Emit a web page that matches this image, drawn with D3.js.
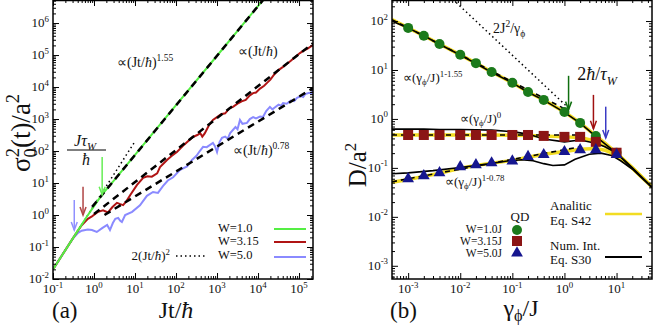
<!DOCTYPE html>
<html><head><meta charset="utf-8">
<script src="https://cdn.jsdelivr.net/npm/d3@7"></script>
<style>
body{margin:0;background:#fff}
svg{display:block}
</style>
</head><body>
<svg id="c" width="654" height="327"></svg>
<script>
// ---------------- DATA (panel a) ----------------
const w1Time  = [0.1,0.2,0.4,0.63,1,1.58,3.16,10,100,1000,1e4,2e4];
const w1Sigma = [0.02,0.08,0.32,0.79,1.9,4.4,12.6,76,2700,95000,3.4e6,1e7];

const w315Time  = [0.1,0.2,0.316,0.501,0.708,0.891,1.26,1.66,2.19,2.82,3.63,4.37,5.13,6.31,7.59,11.2,15.8,20,25.7,34.7,40.7,60.3,79.4,105,158,257,331,389,437,501,631,794,1000,1260,1580,2000,2450,3160,3980,5010,6310,7590,8910,11200,14100,16600,20000,25100,31600,40700,50100,63100,79400,105000,126000,158000,219000];
const w315Sigma = [0.02,0.08,0.2,0.48,0.76,0.91,1.26,1.41,1.2,1.78,2.4,2.19,2.04,2.82,4.17,8.71,14.5,16.2,15.8,20,31.6,52.5,70.8,93.3,158,275,316,363,282,355,631,933,1150,1410,1510,2140,2400,3020,3550,3980,5500,6460,6760,8910,11000,13500,17000,25100,33900,42700,52500,66100,85100,115000,135000,155000,204000];

const w5Time  = [0.1,0.158,0.251,0.316,0.398,0.501,0.708,0.891,1.17,1.58,2.09,2.45,2.88,3.31,3.89,4.37,4.79,5.75,8.51,13.2,19.5,27.5,36.3,47.9,63.1,85.1,126,186,245,316,380,457,562,794,891,1000,1150,1320,1580,1820,2090,2820,3160,3630,4170,5370,6310,7590,8910,11200,13200,15800,19500,22400,25100,31600,36300,40700,50100,63100,75900,89100,112000,126000,141000,178000,200000,219000];
const w5Sigma = [0.02,0.05,0.126,0.195,0.269,0.324,0.355,0.339,0.295,0.389,0.49,0.339,0.562,0.759,0.813,0.661,0.603,1.0,1.26,2.0,3.98,5.25,4.9,7.94,12.0,15.1,25.7,33.1,52.5,70.8,100,135,132,178,141,93.3,191,257,282,240,363,562,480,933,708,759,1000,1150,1050,1200,1150,1780,2400,2000,2240,2820,2600,3160,3020,3800,3630,4570,5250,4900,6030,6610,6300,8320];

const fit155   = [[0.9,1.8],[2e4,9.9e6]];
const fit100   = [[1,1.07],[219000,234000]];
const fit078   = [[1.8,1.0],[219000,9230]];
const ballistic= [[0.1,0.02],[10,200]];

// arrows (time, sigma top, sigma bottom)
const arrowsA = [[1.58,65,4.3],[0.54,7.6,1.0],[0.33,2.95,0.34]];

const ticksA_x = [-1,0,1,2,3,4,5];
const ticksA_y = [-2,-1,0,1,2,3,4,5,6];

// ---------------- DATA (panel b) ----------------
const gammaQD = [0.001,0.002,0.004,0.01,0.02,0.04,0.1,0.2,0.4,1,2,4,10];
const qdW1   = [72.4,50.1,33.9,20.4,13.8,9.12,5.5,3.55,2.45,1.38,0.83,0.447,0.204];
const qdW315 = [0.47,0.47,0.47,0.47,0.47,0.47,0.47,0.47,0.45,0.43,0.43,0.34,0.204];
const qdW5   = [0.060,0.069,0.079,0.105,0.115,0.126,0.138,0.170,0.186,0.214,0.234,0.234,0.186];

const gammaCurve = [4.9e-4,0.001,0.002,0.004,0.01,0.02,0.04,0.1,0.2,0.4,1,2,4,6,10,20,47.9];
const anaW1   = [107,72.4,50.1,33.9,20.4,13.8,9.12,5.5,3.55,2.45,1.38,0.83,0.45,0.32,0.2,0.1,0.041];
const numW1   = [100,72,50,33.5,20.2,13.6,9.0,5.45,3.5,2.42,1.36,0.82,0.44,0.31,0.2,0.1,0.04];
const anaW315 = [0.47,0.47,0.47,0.47,0.47,0.47,0.47,0.465,0.46,0.45,0.43,0.42,0.35,0.28,0.2,0.1,0.041];
const numW315 = [0.62,0.62,0.62,0.61,0.61,0.60,0.59,0.55,0.49,0.39,0.34,0.37,0.32,0.27,0.2,0.1,0.04];
const anaW5   = [0.051,0.058,0.067,0.078,0.098,0.112,0.125,0.142,0.165,0.19,0.215,0.24,0.25,0.23,0.18,0.1,0.041];
const gammaNumW5 = [4.9e-4,0.001,0.003,0.01,0.03,0.08,0.15,0.25,0.4,0.6,1,1.6,3,5,8,12,20,47.9];
const numW5      = [0.076,0.079,0.088,0.102,0.118,0.138,0.147,0.14,0.122,0.112,0.115,0.15,0.19,0.2,0.18,0.14,0.095,0.04];

const fitB1   = [[4.9e-4,107],[1,1.62]];
const fitB315 = [[4.9e-4,0.47],[2,0.47]];
const fitB5   = [[4.9e-4,0.052],[2,0.27]];
const dottedB = [[0.00724,276],[1.26,1.59]];
const arrowsB = [[1.2,7.6,1.55],[3.6,3.1,0.63],[6.2,1.78,0.41]];

const ticksB_x = [-3,-2,-1,0,1];
const ticksB_y = [-3,-2,-1,0,1,2];

// ---------------- DRAW ----------------
const FONT='"Liberation Serif","Times New Roman",serif';
const svg = d3.select("#c").style("font-family",FONT);
const zip = (a,b)=>a.map((v,i)=>[v,b[i]]);

const xA = d3.scaleLog().domain([0.1,2.19e5]).range([53,313]);
const yA = d3.scaleLog().domain([0.01,5.25e6]).range([279,0]);
const xB = d3.scaleLog().domain([4.9e-4,47.9]).range([392,652]);
const yB = d3.scaleLog().domain([5.37e-4,269]).range([279,0]);

function rich(parent,x,y,parts,size,anchor){
  const t=parent.append("text").attr("x",x).attr("y",y)
    .attr("text-anchor",anchor||"start")
    .style("font-family",FONT).style("font-size",size+"px").style("fill","#111");
  let shift=0;
  parts.forEach(p=>{
    const target = p.sup ? -size*0.42 : (p.sub ? size*(p.subk||0.25) : 0);
    const ts=t.append("tspan").text(p.t).attr("dy",target-shift);
    shift=target;
    if(p.sup||p.sub) ts.style("font-size",(size*0.68)+"px");
    if(p.it) ts.style("font-style","italic");
    if(p.dx) ts.attr("dx",p.dx);
  });
  return t;
}
function plain(x,y,s,size,anchor){
  return svg.append("text").attr("x",x).attr("y",y).attr("text-anchor",anchor||"start")
    .style("font-family",FONT).style("font-size",size+"px").style("fill","#111").text(s);
}

function frame(x,y,xMaj,yMaj){
  const g=svg.append("g");
  const [x0,x1]=x.range(), [y0,y1]=y.range();
  const isMaj=v=>Math.abs(Math.log10(v)-Math.round(Math.log10(v)))<1e-6;
  const xMinor=x.ticks().filter(v=>!isMaj(v));
  const yMinor=y.ticks().filter(v=>!isMaj(v));
  const xM=xMaj.map(e=>Math.pow(10,e)), yM=yMaj.map(e=>Math.pow(10,e));
  const mk=(axis,tr)=>g.append("g").attr("transform",tr).call(axis).call(s=>s.select(".domain").remove()).selectAll("line").attr("stroke","#000").attr("stroke-width",1);
  mk(d3.axisBottom(x).tickValues(xM).tickSize(-6).tickFormat(""),`translate(0,${y0})`);
  mk(d3.axisBottom(x).tickValues(xMinor).tickSize(-3).tickFormat(""),`translate(0,${y0})`);
  mk(d3.axisTop(x).tickValues(xM).tickSize(-6).tickFormat(""),`translate(0,${y1})`);
  mk(d3.axisTop(x).tickValues(xMinor).tickSize(-3).tickFormat(""),`translate(0,${y1})`);
  mk(d3.axisLeft(y).tickValues(yM).tickSize(-6).tickFormat(""),`translate(${x0},0)`);
  mk(d3.axisLeft(y).tickValues(yMinor).tickSize(-3).tickFormat(""),`translate(${x0},0)`);
  mk(d3.axisRight(y).tickValues(yM).tickSize(-6).tickFormat(""),`translate(${x1},0)`);
  mk(d3.axisRight(y).tickValues(yMinor).tickSize(-3).tickFormat(""),`translate(${x1},0)`);
  g.selectAll("text").remove();
  xMaj.forEach(e=>rich(svg,x(Math.pow(10,e)),293,[{t:"10"},{t:String(e),sup:true}],13,"middle"));
  yMaj.forEach(e=>rich(svg,x0-4,y(Math.pow(10,e))+4,[{t:"10"},{t:String(e),sup:true}],13,"end"));
  return g;
}

function clip(id,x,y){
  svg.append("clipPath").attr("id",id).append("rect")
    .attr("x",x.range()[0]).attr("y",y.range()[1])
    .attr("width",x.range()[1]-x.range()[0]).attr("height",y.range()[0]-y.range()[1]);
}
clip("ca",xA,yA); clip("cb",xB,yB);

function arrow(g,x,yTop,yBot,color){
  g.append("line").attr("x1",x).attr("x2",x).attr("y1",yTop).attr("y2",yBot)
    .attr("stroke",color).attr("stroke-width",1.5);
  g.append("path").attr("d",`M${x-3},${yBot-8} L${x},${yBot} L${x+3},${yBot-8}`)
    .attr("fill","none").attr("stroke",color).attr("stroke-width",1.5);
}

// ---- panel a ----
const gA=svg.append("g").attr("clip-path","url(#ca)");
const lineA=d3.line().x(d=>xA(d[0])).y(d=>yA(d[1]));
gA.append("path").attr("d",lineA(ballistic)).attr("fill","none").attr("stroke","#000").attr("stroke-width",1.5).attr("stroke-dasharray","1.5,3");
gA.append("path").attr("d",lineA(zip(w5Time,w5Sigma))).attr("fill","none").attr("stroke","#8a8aff").attr("stroke-width",2);
gA.append("path").attr("d",lineA(zip(w315Time,w315Sigma))).attr("fill","none").attr("stroke","#b01414").attr("stroke-width",2);
gA.append("path").attr("d",lineA(zip(w1Time,w1Sigma))).attr("fill","none").attr("stroke","#55ee44").attr("stroke-width",2);
[fit155,fit100,fit078].forEach(f=>gA.append("path").attr("d",lineA(f)).attr("fill","none").attr("stroke","#000").attr("stroke-width",2.5).attr("stroke-dasharray","7,5"));
const arrA=svg.append("g");
const colA=["#66ee55","#b04545","#9090ff"];
arrowsA.forEach((a,i)=>arrow(arrA,xA(a[0]),yA(a[1]),yA(a[2]),colA[i]));
frame(xA,yA,ticksA_x,ticksA_y);
svg.append("rect").attr("x",53).attr("y",0.5).attr("width",260).attr("height",278.5).attr("fill","none").attr("stroke","#000").attr("stroke-width",1.5);

// annotations a
rich(svg,117,67,[{t:"∝(Jt/"},{t:"ħ",it:true},{t:")"},{t:"1.55",sup:true}],14);
rich(svg,238,56,[{t:"∝(Jt/"},{t:"ħ",it:true},{t:")"}],14);
rich(svg,233,155,[{t:"∝(Jt/"},{t:"ħ",it:true},{t:")"},{t:"0.78",sup:true}],14);
rich(svg,85,146,[{t:"Jτ",it:true},{t:"W",sub:true,it:true}],16,"middle");
svg.append("line").attr("x1",67).attr("x2",106).attr("y1",150).attr("y2",150).attr("stroke","#000").attr("stroke-width",1.2);
rich(svg,86,165,[{t:"ħ",it:true}],16,"middle");
// legend a
const legA=[["W=1.0","#55ee44",232,229],["W=3.15","#b01414",245,242],["W=5.0","#8a8aff",259,257]];
legA.forEach(l=>{
  plain(218,l[2],l[0],12.5);
  svg.append("line").attr("x1",274).attr("x2",306).attr("y1",l[3]).attr("y2",l[3]).attr("stroke",l[1]).attr("stroke-width",2);
});
rich(svg,170,260,[{t:"2(Jt/"},{t:"ħ",it:true},{t:")"},{t:"2",sup:true}],13,"end");
svg.append("line").attr("x1",176).attr("x2",207).attr("y1",256).attr("y2",256).attr("stroke","#000").attr("stroke-width",1.5).attr("stroke-dasharray","1.5,3");
// axis titles a
rich(svg,176,318,[{t:"Jt/"},{t:"ħ",it:true}],24,"middle");
plain(52,318,"(a)",23);
rich(svg.append("g").attr("transform","translate(30,133) rotate(-90)"),0,0,[{t:"σ"},{t:"0",sub:true},{t:"2",sup:true,dx:-9},{t:"(t)/a"},{t:"2",sup:true}],27,"middle");

// ---- panel b ----
const gB=svg.append("g").attr("clip-path","url(#cb)");
const lineB=d3.line().x(d=>xB(d[0])).y(d=>yB(d[1]));
const yel="#f2dc22";
[anaW1,anaW315,anaW5].forEach(a=>gB.append("path").attr("d",lineB(zip(gammaCurve,a))).attr("fill","none").attr("stroke",yel).attr("stroke-width",3.5));
gB.append("path").attr("d",lineB(zip(gammaCurve,numW1))).attr("fill","none").attr("stroke","#000").attr("stroke-width",1.6);
gB.append("path").attr("d",lineB(zip(gammaCurve,numW315))).attr("fill","none").attr("stroke","#000").attr("stroke-width",1.6);
gB.append("path").attr("d",lineB(zip(gammaNumW5,numW5))).attr("fill","none").attr("stroke","#000").attr("stroke-width",1.6);
[fitB1,fitB315,fitB5].forEach(f=>gB.append("path").attr("d",lineB(f)).attr("fill","none").attr("stroke","#000").attr("stroke-width",1.6).attr("stroke-dasharray","5,4"));
gB.append("path").attr("d",lineB(dottedB)).attr("fill","none").attr("stroke","#000").attr("stroke-width",1.5).attr("stroke-dasharray","1.5,3");
const cG="#1b7a1b", cR="#8b1515", cBl="#16168f";
gB.selectAll(".c1").data(zip(gammaQD,qdW1)).join("circle").attr("cx",d=>xB(d[0])).attr("cy",d=>yB(d[1])).attr("r",5).attr("fill",cG);
gB.selectAll(".c2").data(zip(gammaQD,qdW315)).join("rect").attr("x",d=>xB(d[0])-5).attr("y",d=>yB(d[1])-5).attr("width",10).attr("height",10).attr("fill",cR);
const tri=d3.symbol().type(d3.symbolTriangle).size(60);
gB.selectAll(".c3").data(zip(gammaQD,qdW5)).join("path").attr("d",tri).attr("transform",d=>`translate(${xB(d[0])},${yB(d[1])})`).attr("fill",cBl);
const arrB=svg.append("g");
const colB=["#0f6e0f","#a01010","#3a3ac4"];
arrowsB.forEach((a,i)=>arrow(arrB,xB(a[0]),yB(a[1]),yB(a[2]),colB[i]));
frame(xB,yB,ticksB_x,ticksB_y);
svg.append("rect").attr("x",392).attr("y",0.5).attr("width",260).attr("height",278.5).attr("fill","none").attr("stroke","#000").attr("stroke-width",1.5);

// annotations b
rich(svg,597,80,[{t:"2"},{t:"ħ",it:true},{t:"/"},{t:"τ",it:true},{t:"W",sub:true,it:true}],18,"middle");
rich(svg,493,33,[{t:"2J"},{t:"2",sup:true},{t:"/γ"},{t:"ϕ",sub:true}],14);
rich(svg,403,82,[{t:"∝(γ"},{t:"ϕ",sub:true},{t:"/J)"},{t:"1-1.55",sup:true}],13);
rich(svg,460,123,[{t:"∝(γ"},{t:"ϕ",sub:true},{t:"/J)"},{t:"0",sup:true}],13);
rich(svg,445,186,[{t:"∝(γ"},{t:"ϕ",sub:true},{t:"/J)"},{t:"1-0.78",sup:true}],13);
// legend b
plain(520,221,"QD",13,"middle");
[["W=1.0J",233],["W=3.15J",245],["W=5.0J",257]].forEach(l=>plain(502,l[1],l[0],11.5,"end"));
svg.append("circle").attr("cx",517).attr("cy",230).attr("r",5).attr("fill",cG);
svg.append("rect").attr("x",512).attr("y",236).attr("width",10).attr("height",10).attr("fill",cR);
svg.append("path").attr("d",tri).attr("transform","translate(517,253)").attr("fill",cBl);
plain(550,210,"Analitic",13);
plain(550,225,"Eq. S42",13);
svg.append("line").attr("x1",605).attr("x2",642).attr("y1",214).attr("y2",214).attr("stroke",yel).attr("stroke-width",2.5);
plain(550,250,"Num. Int.",13);
plain(550,264,"Eq. S30",13);
svg.append("line").attr("x1",605).attr("x2",642).attr("y1",257).attr("y2",257).attr("stroke","#000").attr("stroke-width",2);
// axis titles b
rich(svg,521,316,[{t:"γ"},{t:"ϕ",sub:true,subk:0.2},{t:"/J"}],24,"middle");
plain(390,318,"(b)",23);
rich(svg.append("g").attr("transform","translate(366,165) rotate(-90)"),0,0,[{t:"D/a"},{t:"2",sup:true}],25,"middle");
</script>
</body></html>
